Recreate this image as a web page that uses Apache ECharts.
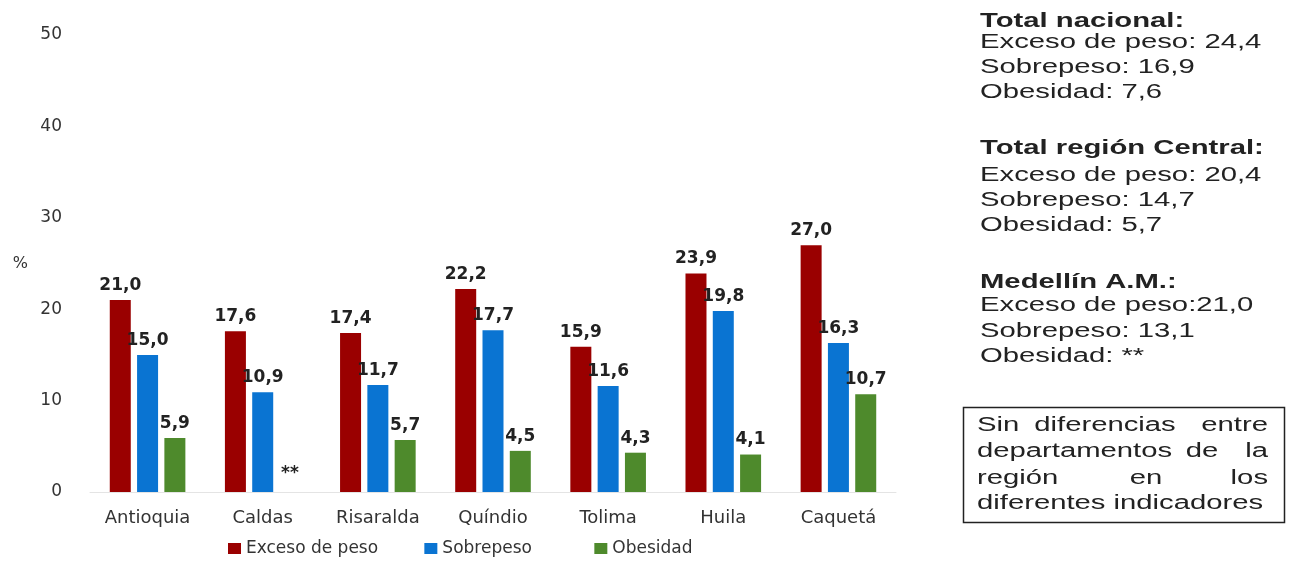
<!DOCTYPE html>
<html><head><meta charset="utf-8">
<script src="https://cdn.jsdelivr.net/npm/echarts@6/dist/echarts.min.js"></script>
<style>html,body{margin:0;padding:0;background:#fff}#c{width:1290px;height:565px}</style>
</head><body><div id="c"></div>
<script>
const categories = ['Antioquia','Caldas','Risaralda','Quíndio','Tolima','Huila','Caquetá'];
const excesoPeso = [21.0, 17.6, 17.4, 22.2, 15.9, 23.9, 27.0];
const sobrepeso = [15.0, 10.9, 11.7, 17.7, 11.6, 19.8, 16.3];
const obesidad = [5.9, null, 5.7, 4.5, 4.3, 4.1, 10.7];
const seriesNames = ['Exceso de peso','Sobrepeso','Obesidad'];
const yTicks = [0,10,20,30,40,50];
const notes = [
  ['Total nacional:', true], ['Exceso de peso: 24,4', false], ['Sobrepeso: 16,9', false], ['Obesidad: 7,6', false],
  ['Total región Central:', true], ['Exceso de peso: 20,4', false], ['Sobrepeso: 14,7', false], ['Obesidad: 5,7', false],
  ['Medellín A.M.:', true], ['Exceso de peso:21,0', false], ['Sobrepeso: 13,1', false], ['Obesidad: **', false]
];
const boxLines = [['Sin','diferencias','entre'],['departamentos','de','la'],['región','en','los'],['diferentes indicadores']];

const colors = ['#9A0000','#0A74D2','#4E8A2C'];
const fmt = v => v.toFixed(1).replace('.', ',');
const chartFont = 'DejaVu Sans';
const labelStyle = {show:true, position:'top', distance:6, fontFamily:chartFont, fontWeight:'bold', fontSize:17, color:'#222',
  formatter: p => p.value == null ? '' : fmt(p.value)};

const obesData = obesidad.map(v => v == null ? {value:0, label:{formatter:'**', offset:[0,-4]}} : v);

const SX = 1.5;
const noteFont = '19.5px "Liberation Sans", Arial';
const noteY = [22,43,68,93, 149,176,201,226, 283,306,332,357];
const graphic = notes.map((n,i) => ({type:'text', x:980, y:noteY[i], scaleX:SX,
  style:{text:n[0], font:(n[1]?'bold ':'')+noteFont, fill:'#222', textAlign:'left', textVerticalAlign:'middle'}}));
graphic.push({type:'rect', shape:{x:963.5,y:407.5,width:321,height:115}, style:{fill:'none', stroke:'#222', lineWidth:1.5}});
const boxLineY = [426,452,479,504];
const midX = [1105,1202,1146];
boxLines.forEach((ws,i) => {
  const mk = (t,x,al) => ({type:'text', x:x, y:boxLineY[i], scaleX:SX,
    style:{text:t, font:noteFont, fill:'#222', textVerticalAlign:'middle', textAlign:al}});
  graphic.push(mk(ws[0],977,'left'));
  if (ws.length > 1) {
    graphic.push(mk(ws[1],midX[i],'center'));
    graphic.push(mk(ws[2],1268,'right'));
  }
});

const legendPad = [3,6,0];
const chart = echarts.init(document.getElementById('c'), null, {renderer:'canvas'});
chart.setOption({
  animation:false,
  color: colors,
  grid:{left:90, right:394, top:35, bottom:73, containLabel:false},
  legend:{bottom:3, left:223, itemWidth:13, itemHeight:11, itemGap:30, icon:'rect',
    formatter: name => name + '\u00a0'.repeat(legendPad[seriesNames.indexOf(name)]),
    textStyle:{fontFamily:chartFont, fontSize:17, color:'#333'},
    data:seriesNames},
  xAxis:{type:'category', data:categories,
    axisLine:{show:true, lineStyle:{color:'#e4e4e4'}}, axisTick:{show:false},
    axisLabel:{fontFamily:chartFont, fontSize:18, color:'#333', margin:17}},
  yAxis:{type:'value', min:yTicks[0], max:yTicks[yTicks.length-1], interval:10,
    name:'%', nameLocation:'middle', nameRotate:0, nameGap:62,
    nameTextStyle:{fontFamily:chartFont, fontSize:16, color:'#333', padding:[16,0,0,0]},
    axisLine:{show:false}, axisTick:{show:false}, splitLine:{show:false},
    axisLabel:{fontFamily:chartFont, fontSize:17, color:'#333', margin:28}},
  series:[
    {name:seriesNames[0], type:'bar', data:excesoPeso, barWidth:21, barGap:'30%', label:labelStyle},
    {name:seriesNames[1], type:'bar', data:sobrepeso, barWidth:21, barGap:'30%', label:labelStyle},
    {name:seriesNames[2], type:'bar', data:obesData, barWidth:21, barGap:'30%', label:labelStyle}
  ],
  graphic: graphic
});
</script></body></html>
